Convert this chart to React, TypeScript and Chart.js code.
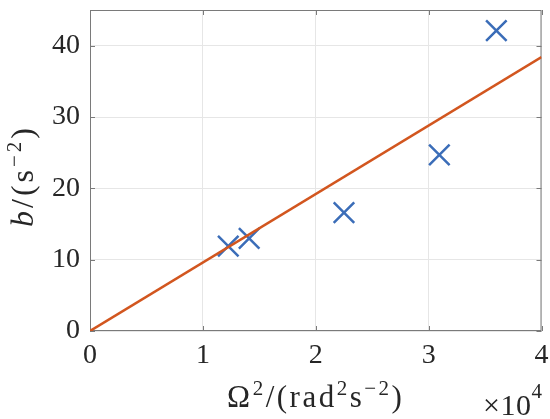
import React, { useEffect, useRef } from "react";
import { Chart, registerables } from "chart.js";

Chart.register(...registerables);

const omegaSq = [12250, 14100, 22500, 30950, 36000];
const bValues = [11.9, 13.0, 16.6, 24.7, 42.1];
const fitX = [0, 40000];
const fitY = [0, 38.4];
const xTicks = [0, 10000, 20000, 30000, 40000];
const yTicks = [0, 10, 20, 30, 40];

const FONT = "'Liberation Serif', 'Times New Roman', serif";
const TEXT = "#262626";

type Piece = { t: string; sup?: boolean; italic?: boolean };

function drawPieces(
  ctx: CanvasRenderingContext2D,
  pieces: Piece[],
  size: number,
  supSize: number,
  supRaise: number,
  spacing: number,
  x: number,
  y: number,
  align: "center" | "right"
) {
  const fontOf = (p: Piece) => `${p.italic ? "italic " : ""}${p.sup ? supSize : size}px ${FONT}`;
  (ctx as any).letterSpacing = `${spacing}px`;
  let total = 0;
  const widths = pieces.map((p) => {
    ctx.font = fontOf(p);
    const w = ctx.measureText(p.t).width;
    total += w;
    return w;
  });
  let cx = align === "center" ? x - total / 2 : x - total;
  ctx.textBaseline = "alphabetic";
  ctx.textAlign = "left";
  pieces.forEach((p, i) => {
    ctx.font = fontOf(p);
    ctx.fillText(p.t, cx, p.sup ? y - supRaise : y);
    cx += widths[i];
  });
  (ctx as any).letterSpacing = "0px";
}

const decorPlugin = {
  id: "decor",
  beforeDatasetsDraw(chart: any) {
    const { ctx, chartArea: a, scales } = chart;
    ctx.save();
    ctx.strokeStyle = "#7a7a7a";
    ctx.lineWidth = 1;
    ctx.strokeRect(a.left + 0.5, a.top + 0.5, a.right - a.left - 1, a.bottom - a.top - 1);
    const tl = 5;
    ctx.beginPath();
    xTicks.forEach((v) => {
      const px = Math.round(scales.x.getPixelForValue(v)) + 0.5;
      ctx.moveTo(px, a.bottom);
      ctx.lineTo(px, a.bottom - tl);
      ctx.moveTo(px, a.top);
      ctx.lineTo(px, a.top + tl);
    });
    yTicks.forEach((v) => {
      const py = Math.round(scales.y.getPixelForValue(v)) + 0.5;
      ctx.moveTo(a.left, py);
      ctx.lineTo(a.left + tl, py);
      ctx.moveTo(a.right, py);
      ctx.lineTo(a.right - tl, py);
    });
    ctx.stroke();
    ctx.restore();
  },
  afterDraw(chart: any) {
    const { ctx, chartArea: a } = chart;
    ctx.save();
    ctx.fillStyle = TEXT;
    const cx = (a.left + a.right) / 2;
    drawPieces(
      ctx,
      [
        { t: "Ω" },
        { t: "2", sup: true },
        { t: "/(rad" },
        { t: "2", sup: true },
        { t: "s" },
        { t: "−2", sup: true },
        { t: ")" },
      ],
      31, 21, 12, 2.5, cx, 407, "center"
    );
    drawPieces(ctx, [{ t: "×10" }, { t: "4", sup: true }], 30, 21, 17, 0.5, a.right + 1, 415, "right");
    ctx.translate(33, 176);
    ctx.rotate(-Math.PI / 2);
    drawPieces(
      ctx,
      [{ t: "b", italic: true }, { t: "/(s" }, { t: "−2", sup: true }, { t: ")" }],
      32, 21, 12, 3, 0, 0, "center"
    );
    ctx.restore();
  },
};

const zeroPad = (s: any) => {
  s.paddingTop = 0;
  s.paddingBottom = 0;
  s.paddingLeft = 0;
  s.paddingRight = 0;
};

export default function App() {
  const ref = useRef<HTMLCanvasElement>(null);
  useEffect(() => {
    if (!ref.current) return;
    const chart = new Chart(ref.current, {
      type: "scatter",
      data: {
        datasets: [
          {
            type: "line",
            data: fitX.map((x, i) => ({ x, y: fitY[i] })),
            borderColor: "#D2561F",
            borderWidth: 2.5,
            pointRadius: 0,
            fill: false,
            order: 0,
          } as any,
          {
            data: omegaSq.map((x, i) => ({ x, y: bValues[i] })),
            pointStyle: "crossRot",
            pointRadius: 14.5,
            pointHoverRadius: 14.5,
            borderColor: "#3B6DB8",
            backgroundColor: "#3B6DB8",
            borderWidth: 2.5,
            showLine: false,
            order: 1,
          } as any,
        ],
      },
      options: {
        animation: false,
        responsive: true,
        maintainAspectRatio: false,
        layout: { autoPadding: false, padding: { top: 10, right: 8.5, left: 0, bottom: 0 } },
        plugins: { legend: { display: false }, tooltip: { enabled: false } },
        scales: {
          x: {
            type: "linear",
            min: 0,
            max: 40000,
            afterFit: (s: any) => {
              s.height = 88;
              zeroPad(s);
            },
            afterBuildTicks: (s: any) => {
              s.ticks = xTicks.map((v) => ({ value: v }));
            },
            ticks: {
              padding: 8,
              color: TEXT,
              font: { family: FONT, size: 28 },
              callback: (v: any) => String(Number(v) / 10000),
              maxRotation: 0,
            },
            grid: { color: "#e6e6e6", lineWidth: 1, drawTicks: false },
            border: { display: false },
          },
          y: {
            type: "linear",
            min: 0,
            max: 45,
            afterFit: (s: any) => {
              s.width = 90;
              zeroPad(s);
            },
            afterBuildTicks: (s: any) => {
              s.ticks = yTicks.map((v) => ({ value: v }));
            },
            ticks: {
              padding: 10,
              color: TEXT,
              font: { family: FONT, size: 28 },
            },
            grid: { color: "#e6e6e6", lineWidth: 1, drawTicks: false },
            border: { display: false },
          },
        },
      },
      plugins: [decorPlugin],
    });
    return () => chart.destroy();
  }, []);
  return (
    <div style={{ position: "fixed", left: 0, top: 0, width: 550, height: 419, background: "#fff" }}>
      <canvas ref={ref} />
    </div>
  );
}
